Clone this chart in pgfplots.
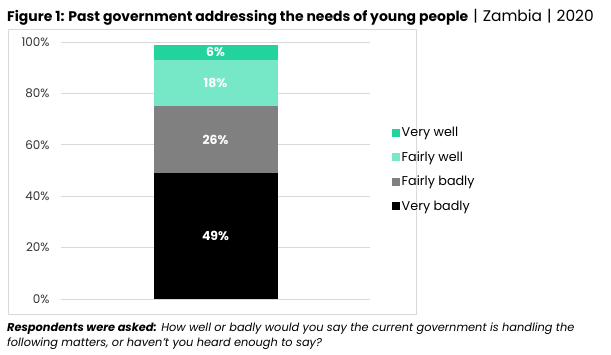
\documentclass[border=0pt]{standalone}
\usepackage{fontspec}
\setmainfont{Poppins}
\usepackage{pgfplots}
\pgfplotsset{compat=1.18}
\definecolor{verywell}{HTML}{22D3A0}
\definecolor{fairlywell}{HTML}{76E8C8}
\definecolor{fairlybadly}{HTML}{808080}
\definecolor{framegray}{HTML}{D9D9D9}
\definecolor{tickgray}{HTML}{333333}
\begin{document}
\begin{tikzpicture}[x=1bp,y=1bp]
\path[use as bounding box] (0bp,0bp) rectangle (611bp,355bp);
\draw[framegray, line width=1bp] (8bp,40bp) rectangle (416bp,325bp);
\node[anchor=base west, inner sep=0] at (7bp,333bp) {\fontsize{14}{16}\selectfont\bfseries Figure 1: Past government addressing the needs of young people\mdseries\fontsize{15.5}{16}\selectfont\hspace{5bp}|\hspace{5bp}Zambia\hspace{5bp}|\hspace{5bp}2020};
\node[anchor=base west, inner sep=0] at (7bp,24bp) {\fontsize{11.4}{13}\selectfont\itshape\textbf{Respondents were asked:} How well or badly would you say the current government is handling the};
\node[anchor=base west, inner sep=0] at (7bp,9bp) {\fontsize{11.4}{13}\selectfont\itshape following matters, or haven't you heard enough to say?};
\begin{axis}[
  at={(61bp,56bp)}, anchor=south west, scale only axis,
  width=309bp, height=257bp,
  xmin=0, xmax=1, ymin=0, ymax=100,
  ybar stacked, bar width=124bp,
  axis line style={draw=none}, tick style={draw=none},
  xtick=\empty,
  ytick={0,20,40,60,80,100},
  yticklabels={0\%,20\%,40\%,60\%,80\%,100\%},
  yticklabel style={font=\fontsize{12}{13}\selectfont, text=tickgray, xshift=-8bp},
  ymajorgrids, grid style={framegray, line width=0.8bp},
  legend style={at={(1.06,0.685)}, anchor=north west, draw=none, fill=none,
    font=\fontsize{12.8}{14}\selectfont, row sep=9.5bp,
    cells={anchor=west}},
  legend image code/.code={\fill[#1] (0bp,-4bp) rectangle (8bp,4bp);},
  reverse legend,
]
\addplot[fill=black, draw=none] coordinates {(0.5,49)};
\addlegendentry{Very badly}
\addplot[fill=fairlybadly, draw=none] coordinates {(0.5,26)};
\addlegendentry{Fairly badly}
\addplot[fill=fairlywell, draw=none] coordinates {(0.5,18)};
\addlegendentry{Fairly well}
\addplot[fill=verywell, draw=none] coordinates {(0.5,6)};
\addlegendentry{Very well}
\end{axis}
\begin{axis}[
  at={(61bp,56bp)}, anchor=south west, scale only axis,
  width=309bp, height=257bp,
  xmin=0, xmax=1, ymin=0, ymax=100, hide axis,
]
\addplot[only marks, mark=none, nodes near coords, point meta=explicit symbolic,
  every node near coord/.append style={anchor=center, text=white, font=\fontsize{12.5}{13}\selectfont\bfseries}]
  coordinates {(0.5,24.5)[49\%] (0.5,62)[26\%] (0.5,84)[18\%] (0.5,96)[6\%]};
\end{axis}
\end{tikzpicture}
\end{document}
